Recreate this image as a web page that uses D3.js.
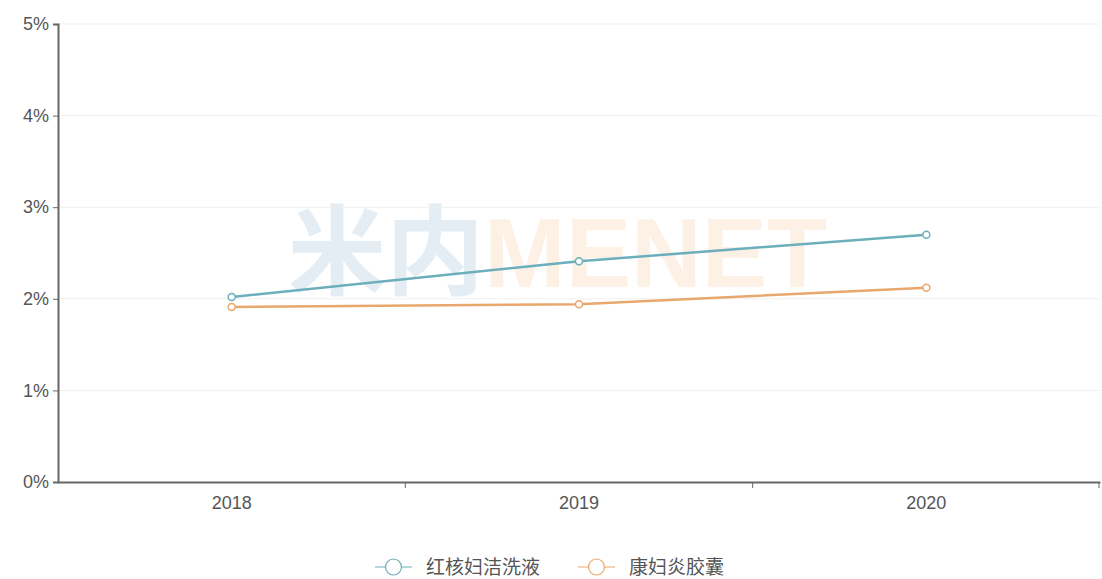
<!DOCTYPE html>
<html><head><meta charset="utf-8">
<script src="https://cdn.jsdelivr.net/npm/d3@7"></script>
<style>body{margin:0;background:#fff;}svg{display:block;font-family:"Noto Sans CJK SC","Noto Sans",sans-serif;}</style>
</head><body><svg id="c" width="1102" height="579"></svg>
<script>
const categories = ["2018","2019","2020"];
const seriesNames = ["红核妇洁洗液","康妇炎胶囊"];
const seriesA = [2.02, 2.41, 2.70];
const seriesB = [1.91, 1.94, 2.12];
const yTicks = [0,1,2,3,4,5];
const colors = ["#6caebb","#e8a76d"];

(function(){
const svg = d3.select("#c");
const mLeft = 58, mRight = 1100, mTop = 24, mBottom = 482;
const x = d3.scaleBand().domain(categories).range([mLeft, mRight]);
const y = d3.scaleLinear().domain([0,5]).range([mBottom, mTop]);

// watermark
const wm = svg.append("text").attr("x", 288).attr("y", 287).attr("font-size", 98).attr("font-weight", "bold")
  .attr("font-family", "'Noto Sans CJK SC', sans-serif");
wm.append("tspan").attr("fill", "#e3edf3").text("米内");
wm.append("tspan").attr("fill", "#fdf1e6").attr("font-family","'Liberation Sans', Arial, sans-serif").text("MENET");

// grid
svg.append("g").selectAll("line").data(yTicks.slice(1)).join("line")
  .attr("x1", mLeft).attr("x2", mRight).attr("y1", d => y(d)).attr("y2", d => y(d))
  .attr("stroke", "#f0f0f0").attr("stroke-width", 1);

// y axis
const ya = svg.append("g").attr("transform", `translate(${mLeft},0)`)
  .call(d3.axisLeft(y).tickValues(yTicks).tickFormat(d => d + "%").tickSize(5).tickPadding(4));
ya.select(".domain").attr("stroke", "#666").attr("stroke-width", 2);
ya.selectAll(".tick line").attr("stroke", "#666");
ya.selectAll("text").attr("fill", "#555").attr("font-size", 18);

// x axis
const xa = svg.append("g").attr("transform", `translate(0,${mBottom})`)
  .call(d3.axisBottom(x).tickSize(0).tickPadding(14));
xa.select(".domain").attr("stroke", "#666").attr("stroke-width", 2);
xa.selectAll("text").attr("fill", "#555").attr("font-size", 18);
const bounds = categories.slice(1).map(c => x(c)).concat([mRight - 1]);
xa.append("g").selectAll("line").data(bounds).join("line")
  .attr("x1", d => d).attr("x2", d => d)
  .attr("y1", 0).attr("y2", 6).attr("stroke", "#666");

// lines
const data = [seriesA, seriesB];
const line = d3.line().x((d,i) => x(categories[i]) + x.bandwidth()/2).y(d => y(d));
data.forEach((s, k) => {
  svg.append("path").datum(s).attr("d", line).attr("fill", "none")
    .attr("stroke", colors[k]).attr("stroke-width", 2.5);
  svg.append("g").selectAll("circle").data(s).join("circle")
    .attr("cx", (d,i) => x(categories[i]) + x.bandwidth()/2).attr("cy", d => y(d))
    .attr("r", 3.5).attr("fill", "#fff").attr("stroke", colors[k]).attr("stroke-width", 1.5);
});

// legend
const legX = [375, 578];
seriesNames.forEach((n, k) => {
  const g = svg.append("g").attr("transform", `translate(${legX[k]},567)`);
  g.append("line").attr("x1", 0).attr("x2", 37).attr("y1", 0).attr("y2", 0).attr("stroke", colors[k]).attr("stroke-width", 1.2);
  g.append("circle").attr("cx", 18.5).attr("cy", 0).attr("r", 8).attr("fill", "#fff").attr("stroke", colors[k]).attr("stroke-width", 1.2);
  g.append("text").attr("x", 51).attr("y", 7).attr("font-size", 19).attr("fill", "#555").text(n);
});
})();
</script></body></html>
